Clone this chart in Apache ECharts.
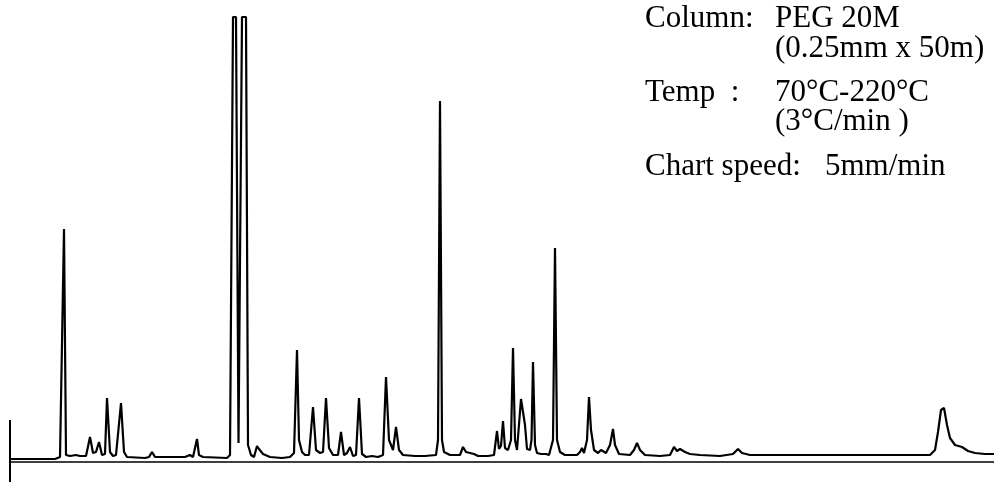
<!DOCTYPE html>
<html>
<head>
<meta charset="utf-8">
<script src="https://cdn.jsdelivr.net/npm/echarts@6/dist/echarts.min.js"></script>
<style>html,body{margin:0;padding:0;background:#fff;}#c{width:994px;height:501px;}</style>
</head>
<body>
<div id="c"></div>
<script>
// Retention position along the chart (cm) and detector response (arbitrary units, full scale = 445)
const traceX = [1.0,5.5,6.0,6.2,6.4,6.6,7.0,7.6,8.0,8.6,9.0,9.3,9.6,9.9,10.2,10.5,10.7,11.0,11.3,11.6,11.8,12.1,12.4,12.7,14.5,14.9,15.2,15.5,18.5,19.0,19.3,19.5,19.7,19.9,20.3,22.7,23.0,23.3,23.6,23.85,23.95,24.2,24.6,24.8,25.1,25.4,25.7,25.9,26.1,26.3,27.0,28.2,29.0,29.4,29.7,29.9,30.2,30.5,30.9,31.3,31.6,32.0,32.3,32.6,32.9,33.3,33.8,34.1,34.4,34.7,35.0,35.3,35.6,35.9,36.2,36.6,37.2,37.8,38.3,38.6,38.9,39.3,39.6,39.9,40.3,41.5,42.5,43.6,43.8,44.0,44.2,44.4,45.0,46.0,46.3,46.6,47.0,47.4,47.8,48.8,49.4,49.7,49.9,50.1,50.3,50.5,50.8,51.1,51.3,51.5,51.7,51.9,52.1,52.3,52.5,52.7,53.0,53.15,53.3,53.5,53.7,54.1,54.6,54.9,55.3,55.5,55.7,56.0,56.5,57.7,58.0,58.2,58.4,58.7,58.9,59.1,59.4,59.8,60.1,60.3,60.6,61.0,61.3,61.5,61.9,63.0,63.4,63.7,64.0,64.5,66.0,67.0,67.4,67.7,68.0,68.2,68.5,69.0,70.0,72.0,73.3,73.8,74.2,75.0,80.0,90.0,93.0,93.5,93.8,94.1,94.4,94.7,95.0,95.5,96.2,96.8,97.5,98.5,99.4];
const traceY = [3,3,5,5,233,7,6,7,6,6,25,9,10,20,7,8,64,10,6,7,8,59,10,5,4,5,10,5,5,7,5,6,23,7,5,4,7,445,445,19,19,445,445,17,7,5,16,13,14,8,5,4,5,9,112,22,10,7,7,55,12,9,10,64,14,7,7,30,7,9,15,6,7,64,8,5,6,5,7,85,22,12,35,12,7,6,6,7,22,361,22,10,7,7,15,10,9,8,6,6,7,31,13,16,41,14,12,22,114,22,12,13,63,61,37,13,12,22,100,17,9,8,8,7,22,214,22,10,7,7,10,14,9,22,65,32,12,9,12,13,9,17,33,17,8,7,12,19,12,7,6,7,15,11,13,15,10,8,7,6,8,13,9,7,7,7,7,12,30,52,54,37,24,17,15,11,9,8,8];
// Injection mark
const injX = [1.0, 1.0];
const injY = [-20, 42];
// Annotation text
const labelCol = ["Column:", "", "Temp  :", "", "Chart speed:"];
const valueCol = ["PEG 20M", "(0.25mm x 50m)", "70\u00B0C-220\u00B0C", "(3\u00B0C/min )", "5mm/min"];

const chart = echarts.init(document.getElementById('c'), null, {renderer: 'canvas'});
const trace = traceX.map((x, i) => [x, traceY[i]]);
const inj = injX.map((x, i) => [x, injY[i]]);
const baselines = [30, 60, 104, 133, 178];
const font = '31px "Liberation Serif"';
const graphics = [];
labelCol.forEach((t, i) => {
  if (t) graphics.push({type: 'text', left: 645, top: baselines[i] - 27, style: {text: t, font: font, fill: '#000'}});
});
valueCol.forEach((t, i) => {
  const x = i === 4 ? 825 : 775;
  graphics.push({type: 'text', left: x, top: baselines[i] - 27, style: {text: t, font: font, fill: '#000'}});
});
chart.setOption({
  animation: false,
  backgroundColor: '#fff',
  grid: {left: 10, right: 0, top: 17, bottom: 39, containLabel: false},
  xAxis: {type: 'value', min: 1.0, max: 99.4, axisLine: {show: true, lineStyle: {color: '#000', width: 1.5}}, axisTick: {show: false}, axisLabel: {show: false}, splitLine: {show: false}},
  yAxis: {type: 'value', min: 0, max: 445, show: false, splitLine: {show: false}},
  graphic: graphics,
  series: [
    {type: 'line', data: trace, showSymbol: false, symbol: 'none', clip: false, lineStyle: {color: '#000', width: 2.2}, z: 3},
    {type: 'line', data: inj, showSymbol: false, symbol: 'none', clip: false, lineStyle: {color: '#000', width: 2}, z: 3}
  ]
});
</script>
</body>
</html>
